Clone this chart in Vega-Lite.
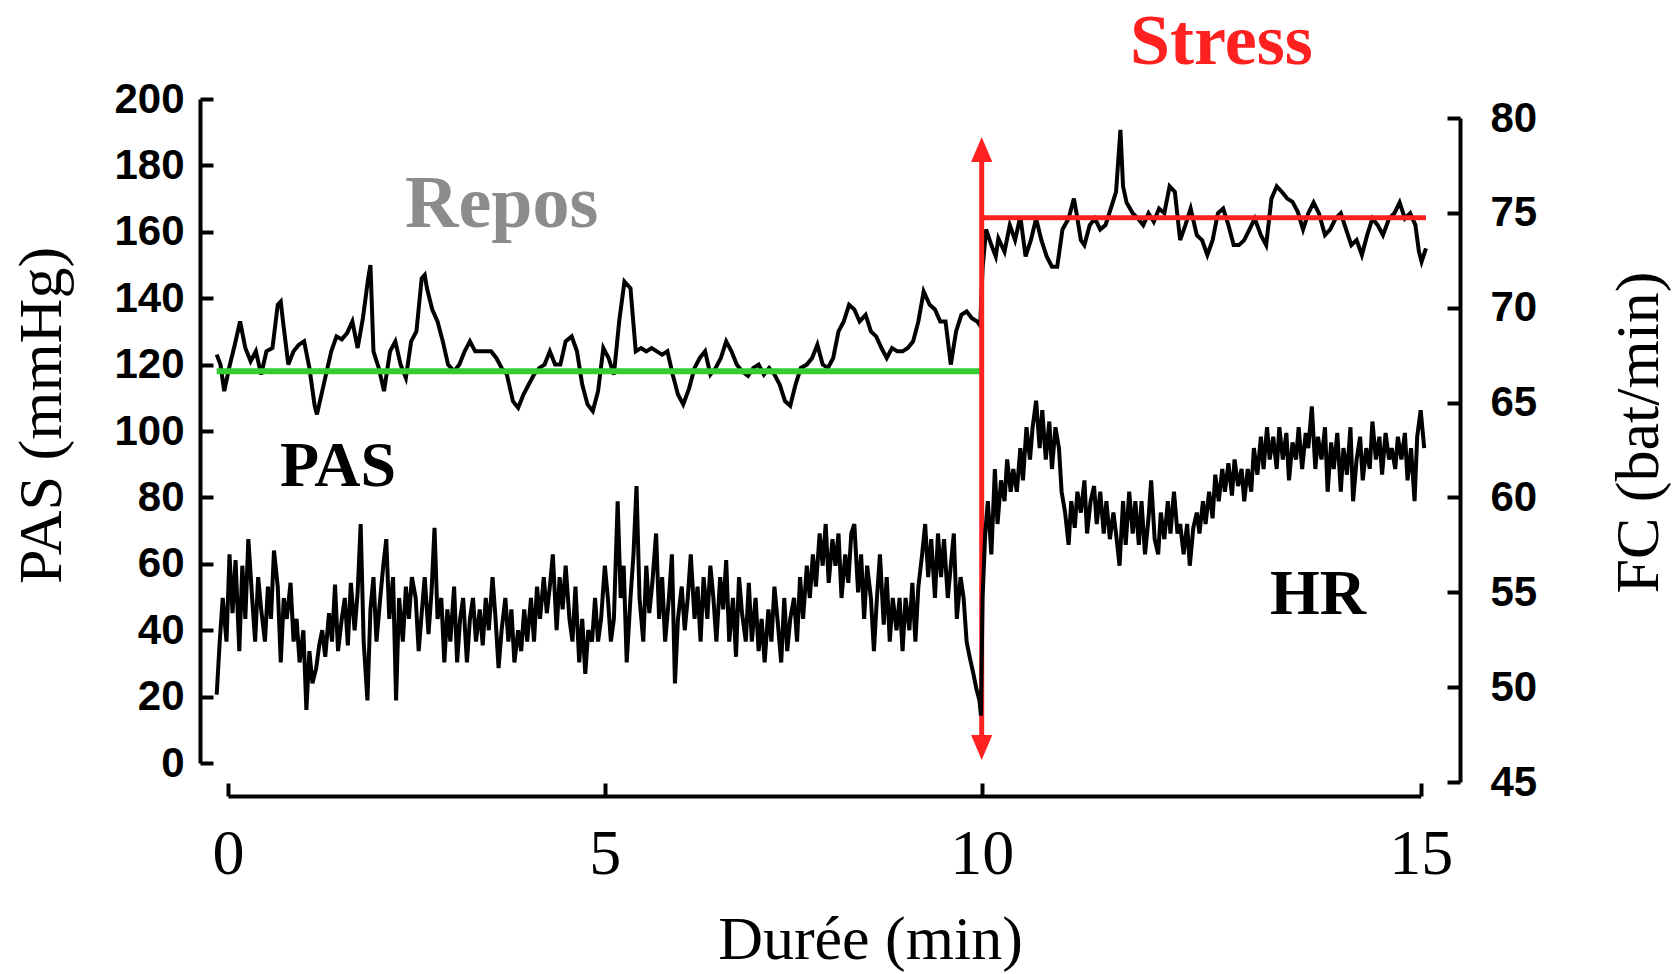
{
"$schema":"https://vega.github.io/schema/vega-lite/v6.json",
"width":1260,"height":683,
"autosize":{"type":"none"},
"padding":{"left":200,"top":99,"right":215,"bottom":192},
"background":"white",
"config":{"view":{"stroke":null},
"axis":{"grid":false,"domainColor":"black","tickColor":"black","domainWidth":4,"tickWidth":4,"tickSize":-13,"labelColor":"black","titleColor":"black","titleFontWeight":"normal","titleFont":"Liberation Serif","titleFontSize":62,"labelFlush":false,"labelOverlap":false}},
"datasets":{
"one":[{}],
"pas":[{"t":-0.15,"pas":123},{"t":-0.1,"pas":120},{"t":-0.05,"pas":112},{"t":0.02,"pas":119.5},{"t":0.09,"pas":126},{"t":0.16,"pas":133},{"t":0.23,"pas":125},{"t":0.3,"pas":121},{"t":0.37,"pas":124},{"t":0.44,"pas":117},{"t":0.51,"pas":124},{"t":0.59,"pas":125},{"t":0.66,"pas":138},{"t":0.7,"pas":139},{"t":0.73,"pas":133},{"t":0.8,"pas":120},{"t":0.87,"pas":124},{"t":0.94,"pas":126},{"t":1.01,"pas":127},{"t":1.08,"pas":119},{"t":1.15,"pas":107.6},{"t":1.18,"pas":105},{"t":1.22,"pas":109},{"t":1.29,"pas":116},{"t":1.37,"pas":124},{"t":1.44,"pas":128.5},{"t":1.51,"pas":127.6},{"t":1.58,"pas":129.5},{"t":1.65,"pas":133},{"t":1.72,"pas":125},{"t":1.79,"pas":134},{"t":1.86,"pas":146},{"t":1.89,"pas":150},{"t":1.93,"pas":124},{"t":2.0,"pas":119},{"t":2.07,"pas":112},{"t":2.15,"pas":124},{"t":2.22,"pas":127},{"t":2.29,"pas":120},{"t":2.36,"pas":116},{"t":2.43,"pas":127},{"t":2.5,"pas":130},{"t":2.57,"pas":146},{"t":2.61,"pas":147},{"t":2.64,"pas":143},{"t":2.71,"pas":136.6},{"t":2.78,"pas":133},{"t":2.85,"pas":127},{"t":2.92,"pas":120},{"t":3.0,"pas":118},{"t":3.07,"pas":120},{"t":3.14,"pas":124},{"t":3.21,"pas":127},{"t":3.28,"pas":124},{"t":3.35,"pas":124},{"t":3.42,"pas":124},{"t":3.49,"pas":124},{"t":3.56,"pas":122},{"t":3.63,"pas":119},{"t":3.7,"pas":117},{"t":3.78,"pas":109},{"t":3.85,"pas":107},{"t":3.92,"pas":111},{"t":3.99,"pas":114},{"t":4.06,"pas":117},{"t":4.13,"pas":119},{"t":4.2,"pas":120},{"t":4.27,"pas":124},{"t":4.34,"pas":120},{"t":4.41,"pas":120},{"t":4.48,"pas":127},{"t":4.56,"pas":128.5},{"t":4.63,"pas":124},{"t":4.7,"pas":114},{"t":4.77,"pas":108},{"t":4.84,"pas":106},{"t":4.91,"pas":112},{"t":4.98,"pas":125},{"t":5.05,"pas":122},{"t":5.12,"pas":117},{"t":5.19,"pas":133},{"t":5.26,"pas":145},{"t":5.34,"pas":143},{"t":5.41,"pas":124},{"t":5.48,"pas":125},{"t":5.55,"pas":124},{"t":5.62,"pas":125},{"t":5.69,"pas":124},{"t":5.76,"pas":123},{"t":5.83,"pas":124},{"t":5.9,"pas":117},{"t":5.97,"pas":111},{"t":6.04,"pas":108},{"t":6.12,"pas":113},{"t":6.19,"pas":119},{"t":6.26,"pas":122},{"t":6.33,"pas":124},{"t":6.4,"pas":117},{"t":6.47,"pas":119},{"t":6.54,"pas":122},{"t":6.61,"pas":127},{"t":6.68,"pas":124},{"t":6.75,"pas":120},{"t":6.82,"pas":118},{"t":6.9,"pas":116.6},{"t":6.97,"pas":119},{"t":7.04,"pas":120},{"t":7.11,"pas":117},{"t":7.18,"pas":119},{"t":7.25,"pas":117},{"t":7.32,"pas":114},{"t":7.39,"pas":109},{"t":7.46,"pas":107.6},{"t":7.53,"pas":114},{"t":7.6,"pas":119},{"t":7.68,"pas":120},{"t":7.75,"pas":122},{"t":7.82,"pas":126},{"t":7.89,"pas":120},{"t":7.96,"pas":119},{"t":8.03,"pas":122},{"t":8.1,"pas":130},{"t":8.17,"pas":133},{"t":8.24,"pas":138},{"t":8.31,"pas":136.6},{"t":8.38,"pas":133},{"t":8.46,"pas":135},{"t":8.53,"pas":130},{"t":8.6,"pas":128.5},{"t":8.67,"pas":125},{"t":8.74,"pas":122},{"t":8.81,"pas":125},{"t":8.88,"pas":124},{"t":8.95,"pas":124},{"t":9.02,"pas":125},{"t":9.09,"pas":127},{"t":9.16,"pas":133},{"t":9.23,"pas":142},{"t":9.31,"pas":138},{"t":9.38,"pas":136.6},{"t":9.45,"pas":133},{"t":9.52,"pas":133},{"t":9.59,"pas":120},{"t":9.66,"pas":130},{"t":9.73,"pas":135},{"t":9.8,"pas":136},{"t":9.87,"pas":134},{"t":9.94,"pas":133},{"t":9.98,"pas":131.7},{"t":10.01,"pas":149},{"t":10.05,"pas":160.7},{"t":10.11,"pas":156},{"t":10.16,"pas":152.6},{"t":10.19,"pas":158},{"t":10.26,"pas":154},{"t":10.32,"pas":162},{"t":10.38,"pas":157.5},{"t":10.44,"pas":164.6},{"t":10.5,"pas":152.6},{"t":10.56,"pas":157.5},{"t":10.62,"pas":164},{"t":10.68,"pas":157.5},{"t":10.74,"pas":152.6},{"t":10.8,"pas":149.5},{"t":10.86,"pas":149.5},{"t":10.92,"pas":160.7},{"t":10.99,"pas":164},{"t":11.05,"pas":170},{"t":11.08,"pas":165.6},{"t":11.13,"pas":157.5},{"t":11.17,"pas":156},{"t":11.23,"pas":162},{"t":11.29,"pas":164},{"t":11.35,"pas":160.7},{"t":11.41,"pas":162},{"t":11.47,"pas":167},{"t":11.53,"pas":172},{"t":11.58,"pas":190.7},{"t":11.61,"pas":173.7},{"t":11.65,"pas":168.8},{"t":11.72,"pas":165.6},{"t":11.78,"pas":164},{"t":11.84,"pas":162},{"t":11.9,"pas":165.6},{"t":11.96,"pas":163},{"t":12.02,"pas":167},{"t":12.08,"pas":165.6},{"t":12.14,"pas":173.7},{"t":12.2,"pas":172},{"t":12.26,"pas":157.5},{"t":12.32,"pas":162},{"t":12.38,"pas":167},{"t":12.45,"pas":159},{"t":12.51,"pas":157.5},{"t":12.57,"pas":153},{"t":12.63,"pas":157.5},{"t":12.69,"pas":165.6},{"t":12.75,"pas":167},{"t":12.81,"pas":162},{"t":12.87,"pas":156},{"t":12.93,"pas":156},{"t":12.99,"pas":157.5},{"t":13.05,"pas":160.7},{"t":13.11,"pas":164},{"t":13.18,"pas":159},{"t":13.24,"pas":156},{"t":13.3,"pas":170},{"t":13.36,"pas":173.7},{"t":13.42,"pas":172},{"t":13.48,"pas":170},{"t":13.54,"pas":169},{"t":13.6,"pas":166},{"t":13.66,"pas":160.7},{"t":13.72,"pas":165.6},{"t":13.78,"pas":168.8},{"t":13.84,"pas":165.6},{"t":13.91,"pas":159},{"t":13.97,"pas":160.7},{"t":14.03,"pas":164},{"t":14.09,"pas":165.6},{"t":14.15,"pas":160.7},{"t":14.21,"pas":156},{"t":14.27,"pas":157.5},{"t":14.33,"pas":153},{"t":14.39,"pas":159},{"t":14.45,"pas":164},{"t":14.51,"pas":162},{"t":14.57,"pas":159},{"t":14.64,"pas":164},{"t":14.7,"pas":165.6},{"t":14.76,"pas":168.8},{"t":14.82,"pas":164},{"t":14.88,"pas":165.6},{"t":14.94,"pas":162},{"t":14.98,"pas":154},{"t":15.01,"pas":151},{"t":15.06,"pas":155}],
"hr":[{"t":-0.15,"hr":49.6},{"t":-0.11,"hr":52.4},{"t":-0.07,"hr":54.7},{"t":-0.02,"hr":52.4},{"t":0.02,"hr":57},{"t":0.06,"hr":53.9},{"t":0.1,"hr":56.7},{"t":0.15,"hr":51.9},{"t":0.19,"hr":56.4},{"t":0.23,"hr":53.6},{"t":0.27,"hr":57.8},{"t":0.32,"hr":54.7},{"t":0.36,"hr":52.4},{"t":0.4,"hr":55.8},{"t":0.44,"hr":54.1},{"t":0.49,"hr":52.4},{"t":0.53,"hr":55.3},{"t":0.57,"hr":53.6},{"t":0.61,"hr":57.2},{"t":0.66,"hr":55.3},{"t":0.7,"hr":51.3},{"t":0.74,"hr":54.7},{"t":0.78,"hr":53.6},{"t":0.83,"hr":55.5},{"t":0.87,"hr":52.4},{"t":0.91,"hr":53.6},{"t":0.95,"hr":51.3},{"t":1.0,"hr":53},{"t":1.04,"hr":48.8},{"t":1.08,"hr":51.9},{"t":1.12,"hr":50.2},{"t":1.17,"hr":51},{"t":1.21,"hr":52.2},{"t":1.25,"hr":53},{"t":1.29,"hr":51.6},{"t":1.34,"hr":53.9},{"t":1.38,"hr":52.4},{"t":1.42,"hr":55.4},{"t":1.46,"hr":51.9},{"t":1.51,"hr":53.6},{"t":1.55,"hr":54.7},{"t":1.59,"hr":52.2},{"t":1.63,"hr":55.5},{"t":1.68,"hr":53},{"t":1.72,"hr":55},{"t":1.76,"hr":58.6},{"t":1.8,"hr":52.4},{"t":1.85,"hr":49.3},{"t":1.89,"hr":54.1},{"t":1.93,"hr":55.8},{"t":1.97,"hr":52.4},{"t":2.02,"hr":54.7},{"t":2.06,"hr":56.4},{"t":2.1,"hr":57.8},{"t":2.14,"hr":53.6},{"t":2.19,"hr":55.8},{"t":2.23,"hr":49.3},{"t":2.27,"hr":54.7},{"t":2.32,"hr":52.4},{"t":2.36,"hr":55.3},{"t":2.4,"hr":53.6},{"t":2.44,"hr":55.8},{"t":2.49,"hr":54.7},{"t":2.53,"hr":51.9},{"t":2.57,"hr":53.9},{"t":2.61,"hr":55.8},{"t":2.66,"hr":52.8},{"t":2.7,"hr":55},{"t":2.74,"hr":58.4},{"t":2.78,"hr":53.6},{"t":2.83,"hr":54.7},{"t":2.87,"hr":51.3},{"t":2.91,"hr":54.1},{"t":2.95,"hr":52.4},{"t":3.0,"hr":55.3},{"t":3.04,"hr":51.3},{"t":3.08,"hr":53.6},{"t":3.12,"hr":54.7},{"t":3.17,"hr":51.3},{"t":3.21,"hr":53.6},{"t":3.25,"hr":54.7},{"t":3.29,"hr":52.4},{"t":3.34,"hr":54.1},{"t":3.38,"hr":52.2},{"t":3.42,"hr":54.7},{"t":3.46,"hr":53},{"t":3.51,"hr":55.8},{"t":3.55,"hr":53.6},{"t":3.59,"hr":51},{"t":3.63,"hr":53},{"t":3.68,"hr":54.7},{"t":3.72,"hr":52.4},{"t":3.76,"hr":54.1},{"t":3.8,"hr":51.3},{"t":3.85,"hr":53},{"t":3.89,"hr":51.9},{"t":3.93,"hr":54.1},{"t":3.97,"hr":52.4},{"t":4.02,"hr":54.7},{"t":4.06,"hr":52.4},{"t":4.1,"hr":55.3},{"t":4.14,"hr":53.6},{"t":4.19,"hr":55.8},{"t":4.23,"hr":53.9},{"t":4.27,"hr":55.3},{"t":4.31,"hr":57},{"t":4.36,"hr":53},{"t":4.4,"hr":55.8},{"t":4.44,"hr":54.1},{"t":4.48,"hr":56.4},{"t":4.53,"hr":53.6},{"t":4.57,"hr":52.4},{"t":4.61,"hr":55.3},{"t":4.66,"hr":51.3},{"t":4.7,"hr":53.6},{"t":4.74,"hr":50.7},{"t":4.78,"hr":53},{"t":4.83,"hr":52.4},{"t":4.87,"hr":54.7},{"t":4.91,"hr":52.4},{"t":4.95,"hr":53.6},{"t":5.0,"hr":56.4},{"t":5.04,"hr":54.7},{"t":5.08,"hr":52.4},{"t":5.12,"hr":53.6},{"t":5.17,"hr":59.8},{"t":5.21,"hr":54.7},{"t":5.25,"hr":56.4},{"t":5.29,"hr":51.3},{"t":5.34,"hr":54.7},{"t":5.38,"hr":57},{"t":5.42,"hr":60.6},{"t":5.46,"hr":54.7},{"t":5.51,"hr":52.4},{"t":5.55,"hr":56.4},{"t":5.59,"hr":53.9},{"t":5.63,"hr":55.5},{"t":5.68,"hr":58.1},{"t":5.72,"hr":53.6},{"t":5.76,"hr":55.8},{"t":5.8,"hr":52.4},{"t":5.85,"hr":54.7},{"t":5.89,"hr":57},{"t":5.93,"hr":50.2},{"t":5.97,"hr":53.6},{"t":6.02,"hr":55.3},{"t":6.06,"hr":53},{"t":6.1,"hr":54.7},{"t":6.14,"hr":57},{"t":6.19,"hr":53.6},{"t":6.23,"hr":55.3},{"t":6.27,"hr":52.4},{"t":6.31,"hr":55.8},{"t":6.36,"hr":53.6},{"t":6.4,"hr":56.4},{"t":6.44,"hr":54.7},{"t":6.48,"hr":52.4},{"t":6.53,"hr":55.8},{"t":6.57,"hr":54.1},{"t":6.61,"hr":56.7},{"t":6.65,"hr":52.4},{"t":6.7,"hr":54.7},{"t":6.74,"hr":51.6},{"t":6.78,"hr":55.8},{"t":6.82,"hr":53.9},{"t":6.87,"hr":52.4},{"t":6.91,"hr":55.5},{"t":6.95,"hr":52.4},{"t":7.0,"hr":54.7},{"t":7.04,"hr":51.9},{"t":7.08,"hr":53.6},{"t":7.12,"hr":51.3},{"t":7.17,"hr":54.1},{"t":7.21,"hr":52.4},{"t":7.25,"hr":55.3},{"t":7.29,"hr":53.6},{"t":7.34,"hr":51.3},{"t":7.38,"hr":54.7},{"t":7.42,"hr":51.9},{"t":7.46,"hr":53.6},{"t":7.51,"hr":54.7},{"t":7.55,"hr":52.4},{"t":7.59,"hr":55.8},{"t":7.63,"hr":53.6},{"t":7.68,"hr":56.4},{"t":7.72,"hr":54.7},{"t":7.76,"hr":57},{"t":7.8,"hr":55.3},{"t":7.85,"hr":58.1},{"t":7.89,"hr":56.4},{"t":7.93,"hr":58.6},{"t":7.97,"hr":55.5},{"t":8.02,"hr":57.8},{"t":8.06,"hr":56.4},{"t":8.1,"hr":58.1},{"t":8.14,"hr":54.7},{"t":8.19,"hr":57},{"t":8.23,"hr":55.5},{"t":8.27,"hr":58.1},{"t":8.31,"hr":58.6},{"t":8.36,"hr":55},{"t":8.4,"hr":57},{"t":8.44,"hr":53.6},{"t":8.48,"hr":56.4},{"t":8.53,"hr":54.7},{"t":8.57,"hr":51.9},{"t":8.61,"hr":54.7},{"t":8.65,"hr":57},{"t":8.7,"hr":53.3},{"t":8.74,"hr":55.8},{"t":8.78,"hr":52.4},{"t":8.82,"hr":54.7},{"t":8.87,"hr":53},{"t":8.91,"hr":54.7},{"t":8.95,"hr":51.9},{"t":8.99,"hr":54.7},{"t":9.04,"hr":53},{"t":9.08,"hr":55.5},{"t":9.12,"hr":52.4},{"t":9.16,"hr":55.3},{"t":9.21,"hr":57},{"t":9.25,"hr":58.6},{"t":9.29,"hr":55.8},{"t":9.33,"hr":57.8},{"t":9.38,"hr":54.7},{"t":9.42,"hr":58.1},{"t":9.46,"hr":55.8},{"t":9.5,"hr":57.8},{"t":9.55,"hr":54.7},{"t":9.59,"hr":56.4},{"t":9.63,"hr":58.1},{"t":9.67,"hr":53.6},{"t":9.72,"hr":55.8},{"t":9.76,"hr":54.7},{"t":9.8,"hr":52.4},{"t":9.84,"hr":51.6},{"t":9.89,"hr":50.7},{"t":9.93,"hr":49.9},{"t":9.97,"hr":49.3},{"t":9.99,"hr":48.5},{"t":10.01,"hr":54.7},{"t":10.04,"hr":58.1},{"t":10.07,"hr":59.8},{"t":10.11,"hr":57},{"t":10.15,"hr":61.5},{"t":10.18,"hr":58.6},{"t":10.22,"hr":60.9},{"t":10.26,"hr":59.8},{"t":10.29,"hr":62.0},{"t":10.33,"hr":60.3},{"t":10.36,"hr":61.5},{"t":10.4,"hr":60.3},{"t":10.44,"hr":62.6},{"t":10.47,"hr":60.9},{"t":10.51,"hr":63.7},{"t":10.55,"hr":62.0},{"t":10.58,"hr":63.7},{"t":10.62,"hr":65.1},{"t":10.66,"hr":62.6},{"t":10.69,"hr":64.6},{"t":10.73,"hr":62.0},{"t":10.77,"hr":64.0},{"t":10.8,"hr":61.5},{"t":10.84,"hr":63.7},{"t":10.88,"hr":62.6},{"t":10.91,"hr":60.3},{"t":10.95,"hr":59.2},{"t":10.99,"hr":57.5},{"t":11.02,"hr":59.8},{"t":11.06,"hr":58.4},{"t":11.09,"hr":60.3},{"t":11.13,"hr":59.2},{"t":11.17,"hr":60.9},{"t":11.2,"hr":58.1},{"t":11.24,"hr":59.8},{"t":11.28,"hr":60.6},{"t":11.31,"hr":58.6},{"t":11.35,"hr":60.3},{"t":11.39,"hr":58.1},{"t":11.42,"hr":59.8},{"t":11.46,"hr":57.8},{"t":11.5,"hr":59.2},{"t":11.53,"hr":58.1},{"t":11.57,"hr":56.4},{"t":11.61,"hr":59.8},{"t":11.64,"hr":57.5},{"t":11.68,"hr":60.3},{"t":11.72,"hr":58.1},{"t":11.75,"hr":59.8},{"t":11.79,"hr":57.5},{"t":11.82,"hr":59.8},{"t":11.86,"hr":57},{"t":11.9,"hr":58.9},{"t":11.93,"hr":60.9},{"t":11.97,"hr":57.8},{"t":12.01,"hr":57},{"t":12.04,"hr":59.2},{"t":12.08,"hr":57.8},{"t":12.12,"hr":59.8},{"t":12.15,"hr":58.1},{"t":12.19,"hr":60.3},{"t":12.23,"hr":58.1},{"t":12.26,"hr":58.6},{"t":12.3,"hr":57},{"t":12.34,"hr":58.6},{"t":12.37,"hr":56.4},{"t":12.41,"hr":58.4},{"t":12.45,"hr":59.2},{"t":12.48,"hr":58.1},{"t":12.52,"hr":59.8},{"t":12.55,"hr":58.6},{"t":12.59,"hr":60.3},{"t":12.63,"hr":58.9},{"t":12.66,"hr":61.2},{"t":12.7,"hr":59.8},{"t":12.74,"hr":61.5},{"t":12.77,"hr":60.3},{"t":12.81,"hr":61.8},{"t":12.85,"hr":60.1},{"t":12.88,"hr":62.0},{"t":12.92,"hr":60.6},{"t":12.96,"hr":61.5},{"t":12.99,"hr":59.8},{"t":13.03,"hr":61.5},{"t":13.07,"hr":60.3},{"t":13.1,"hr":62.6},{"t":13.14,"hr":61.2},{"t":13.18,"hr":63.2},{"t":13.21,"hr":61.5},{"t":13.25,"hr":63.7},{"t":13.28,"hr":62.0},{"t":13.32,"hr":63.2},{"t":13.36,"hr":61.5},{"t":13.39,"hr":63.7},{"t":13.43,"hr":62.0},{"t":13.47,"hr":63.4},{"t":13.5,"hr":60.9},{"t":13.54,"hr":62.9},{"t":13.58,"hr":62.0},{"t":13.61,"hr":63.7},{"t":13.65,"hr":61.5},{"t":13.69,"hr":63.4},{"t":13.72,"hr":62.6},{"t":13.76,"hr":64.8},{"t":13.8,"hr":61.5},{"t":13.83,"hr":63.2},{"t":13.87,"hr":62.0},{"t":13.91,"hr":63.7},{"t":13.94,"hr":60.3},{"t":13.98,"hr":62.9},{"t":14.01,"hr":61.5},{"t":14.05,"hr":63.4},{"t":14.09,"hr":60.3},{"t":14.12,"hr":62.6},{"t":14.16,"hr":61.2},{"t":14.2,"hr":63.7},{"t":14.23,"hr":59.8},{"t":14.27,"hr":62.0},{"t":14.31,"hr":63.2},{"t":14.34,"hr":60.9},{"t":14.38,"hr":62.6},{"t":14.42,"hr":61.5},{"t":14.45,"hr":64.0},{"t":14.49,"hr":62.0},{"t":14.53,"hr":63.2},{"t":14.56,"hr":61.2},{"t":14.6,"hr":63.4},{"t":14.64,"hr":62.0},{"t":14.67,"hr":62.6},{"t":14.71,"hr":61.5},{"t":14.74,"hr":63.2},{"t":14.78,"hr":62.0},{"t":14.82,"hr":63.4},{"t":14.85,"hr":60.9},{"t":14.89,"hr":62.6},{"t":14.93,"hr":59.8},{"t":14.96,"hr":63.2},{"t":15.0,"hr":64.6},{"t":15.04,"hr":62.6}]
},
"layer":[
 {"layer":[
  {"data":{"name":"pas"},"mark":{"type":"line","color":"black","strokeWidth":4},
   "encoding":{
    "x":{"field":"t","type":"quantitative","scale":{"domain":[0,10,15],"range":[28,781.7,1220.7],"nice":false,"zero":false},
     "axis":{"orient":"bottom","offset":14,"values":[0,5,10,15],"format":"d","labelFont":"Liberation Serif","labelFontSize":64,"labelFontWeight":"normal","labelPadding":39,"title":"Durée (min)","titleX":670,"titleY":162,"titleAlign":"center","titleBaseline":"alphabetic","titleAngle":0}},
    "y":{"field":"pas","type":"quantitative","scale":{"domain":[0,200],"range":[664,0],"nice":false,"zero":false},
     "axis":{"orient":"left","values":[0,20,40,60,80,100,120,140,160,180,200],"format":"d","labelFont":"Liberation Sans","labelFontWeight":"bold","labelFontSize":42,"labelPadding":29,"title":"PAS (mmHg)","titleAngle":270,"titleX":-140,"titleY":316,"titleAlign":"center","titleBaseline":"alphabetic"}}}},
  {"data":{"name":"one"},"mark":{"type":"rule","color":"#33cc33","strokeWidth":6},
   "encoding":{"x":{"datum":-0.15,"type":"quantitative"},"x2":{"datum":10},"y":{"datum":118,"type":"quantitative"}}},
  {"data":{"name":"one"},"mark":{"type":"rule","color":"#ff2020","strokeWidth":5},
   "encoding":{"x":{"datum":10,"type":"quantitative"},"x2":{"datum":15.06},"y":{"datum":164.2,"type":"quantitative"}}},
  {"data":{"name":"one"},"mark":{"type":"rule","color":"#ff2020","strokeWidth":5},
   "encoding":{"x":{"datum":10,"type":"quantitative"},"y":{"datum":5,"type":"quantitative"},"y2":{"datum":184}}},
  {"data":{"name":"one"},"mark":{"type":"point","filled":true,"color":"#ff2020","opacity":1,"shape":"M0,-1L0.85,1L-0.85,1Z","size":625},
   "encoding":{"x":{"datum":10,"type":"quantitative"},"y":{"datum":184.8,"type":"quantitative"}}},
  {"data":{"name":"one"},"mark":{"type":"point","filled":true,"color":"#ff2020","opacity":1,"shape":"M0,1L0.85,-1L-0.85,-1Z","size":625},
   "encoding":{"x":{"datum":10,"type":"quantitative"},"y":{"datum":4.7,"type":"quantitative"}}},
  {"data":{"name":"one"},"mark":{"type":"text","text":"Stress","font":"Liberation Serif","fontWeight":"bold","fontSize":72,"color":"#ff2020","align":"center","baseline":"alphabetic"},
   "encoding":{"x":{"datum":12.73,"type":"quantitative"},"y":{"datum":210.5,"type":"quantitative"}}},
  {"data":{"name":"one"},"mark":{"type":"text","text":"Repos","font":"Liberation Serif","fontWeight":"bold","fontSize":74,"color":"#8c8c8c","align":"center","baseline":"alphabetic"},
   "encoding":{"x":{"datum":3.63,"type":"quantitative"},"y":{"datum":161.3,"type":"quantitative"}}},
  {"data":{"name":"one"},"mark":{"type":"text","text":"PAS","font":"Liberation Serif","fontWeight":"bold","fontSize":64,"color":"black","align":"center","baseline":"alphabetic"},
   "encoding":{"x":{"datum":1.46,"type":"quantitative"},"y":{"datum":83.4,"type":"quantitative"}}},
  {"data":{"name":"one"},"mark":{"type":"text","text":"HR","font":"Liberation Serif","fontWeight":"bold","fontSize":64,"color":"black","align":"center","baseline":"alphabetic"},
   "encoding":{"x":{"datum":13.83,"type":"quantitative"},"y":{"datum":44.9,"type":"quantitative"}}}
 ]},
 {"data":{"name":"hr"},"mark":{"type":"line","color":"black","strokeWidth":4},
  "encoding":{
   "x":{"field":"t","type":"quantitative"},
   "y":{"field":"hr","type":"quantitative","scale":{"domain":[45,80],"range":[683,19],"nice":false,"zero":false},
    "axis":{"orient":"right","values":[45,50,55,60,65,70,75,80],"format":"d","labelFont":"Liberation Sans","labelFontWeight":"bold","labelFontSize":42,"labelPadding":43,"labelAlign":"left","title":"FC (bat/min)","titleAngle":270,"titleX":197,"titleY":333,"titleAlign":"center","titleBaseline":"alphabetic"}}}}
],
"resolve":{"scale":{"y":"independent"},"axis":{"y":"independent"}}
}
